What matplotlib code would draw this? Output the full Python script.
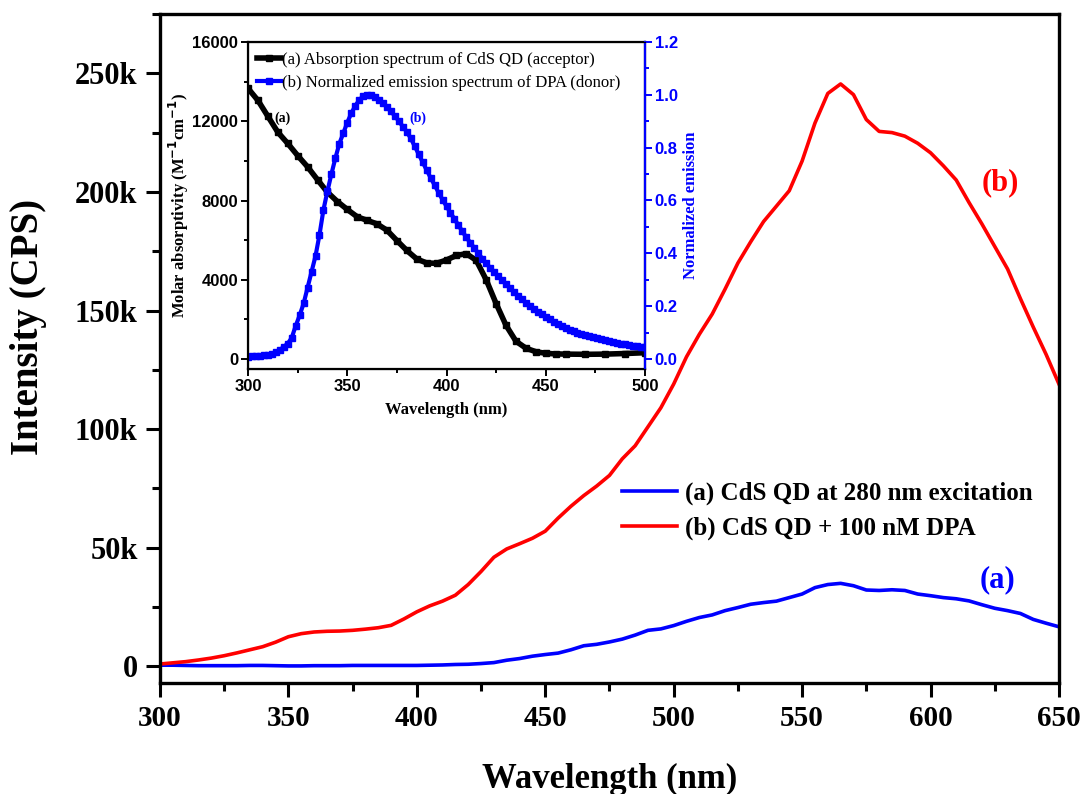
import matplotlib
matplotlib.use("Agg")
import matplotlib.pyplot as plt
from matplotlib.ticker import MultipleLocator, FuncFormatter

serif = "Liberation Serif"
sans = "Liberation Sans"

# main plot: emission spectra (CPS)
wl = [300, 305, 310, 315, 320, 325, 330, 335, 340, 345, 350, 355, 360, 365, 370,
      375, 380, 385, 390, 395, 400, 405, 410, 415, 420, 425, 430, 435, 440, 445,
      450, 455, 460, 465, 470, 475, 480, 485, 490, 495, 500, 505, 510, 515, 520,
      525, 530, 535, 540, 545, 550, 555, 560, 565, 570, 575, 580, 585, 590, 595,
      600, 605, 610, 615, 620, 625, 630, 635, 640, 645, 650]
cds = [500, 500, 400, 300, 300, 300, 300, 400, 400, 300, 200, 200, 300, 300, 300,
       400, 400, 400, 400, 400, 400, 500, 600, 800, 900, 1200, 1600, 2600, 3300, 4300,
       5000, 5600, 7000, 8700, 9300, 10300, 11500, 13200, 15200, 15800, 17200, 19000, 20600, 21700, 23500,
       24800, 26200, 26900, 27500, 29000, 30500, 33200, 34500, 35000, 34000, 32200, 32000, 32300, 32000, 30500,
       29800, 29000, 28500, 27600, 26000, 24500, 23500, 22300, 19800, 18200, 16700]
cds_dpa = [1000, 1500, 2000, 2700, 3500, 4500, 5700, 7000, 8300, 10200, 12500, 13800, 14500, 14800, 14900,
           15200, 15700, 16300, 17300, 20000, 23000, 25500, 27500, 30000, 34500, 40000, 46000, 49500, 51700, 54000,
           57000, 62500, 67500, 72000, 76000, 80500, 87500, 93000, 101000, 109000, 119000, 130500, 140000, 148500, 159000,
           170000, 179000, 187500, 194000, 200500, 213000, 229000, 241500, 245500, 241000, 230500, 225500, 225000, 223500, 220500,
           216500, 211000, 205000, 195500, 186500, 177000, 167500, 155000, 143000, 131500, 119000]

# inset: absorption of CdS QD
abs_wl = [300, 305, 310, 315, 320, 325, 330, 335, 340, 345, 350, 355, 360, 365, 370,
          375, 380, 385, 390, 395, 400, 405, 410, 415, 420, 425, 430, 435, 440, 445,
          450, 455, 460, 470, 480, 490, 500]
absorb = [13660, 13050, 12250, 11450, 10880, 10270, 9700, 9050, 8420, 7950, 7550, 7180, 7000, 6820, 6500,
          5980, 5480, 5050, 4850, 4830, 5000, 5230, 5320, 4980, 4000, 2800, 1700, 900, 550, 370,
          290, 260, 250, 240, 250, 280, 320]

# inset: normalized DPA emission (2 nm steps)
em_wl = list(range(300, 501, 2))
emis = [0.009, 0.010, 0.011, 0.012, 0.014, 0.016, 0.020, 0.026, 0.034, 0.046,
        0.058, 0.080, 0.125, 0.165, 0.210, 0.270, 0.330, 0.390, 0.470, 0.565,
        0.635, 0.700, 0.760, 0.815, 0.855, 0.895, 0.930, 0.958, 0.980, 0.995,
        1.000, 0.998, 0.990, 0.980, 0.968, 0.953, 0.937, 0.920, 0.900, 0.880,
        0.860, 0.835, 0.805, 0.775, 0.745, 0.715, 0.686, 0.658, 0.630, 0.603,
        0.578, 0.553, 0.530, 0.506, 0.483, 0.460, 0.440, 0.420, 0.400, 0.380,
        0.362, 0.345, 0.330, 0.313, 0.298, 0.283, 0.268, 0.254, 0.240, 0.226,
        0.213, 0.201, 0.190, 0.179, 0.169, 0.160, 0.150, 0.141, 0.133, 0.125,
        0.118, 0.111, 0.105, 0.100, 0.095, 0.090, 0.086, 0.082, 0.078, 0.074,
        0.070, 0.067, 0.064, 0.061, 0.058, 0.055, 0.052, 0.050, 0.048, 0.046,
        0.044]

fig = plt.figure(figsize=(10.86, 7.94), dpi=100)
ax = fig.add_axes([0.1473, 0.1398, 0.8278, 0.8426])

ax.plot(wl, cds, color="#0000ff", lw=2.6, label="(a) CdS QD at 280 nm excitation")
ax.plot(wl, cds_dpa, color="#ff0000", lw=2.6, label="(b) CdS QD + 100 nM DPA")

ax.set_xlim(300, 650)
ax.set_ylim(-7000, 275000)
ax.xaxis.set_major_locator(MultipleLocator(50))
ax.xaxis.set_minor_locator(MultipleLocator(25))
ax.yaxis.set_major_locator(MultipleLocator(50000))
ax.yaxis.set_minor_locator(MultipleLocator(25000))
ax.yaxis.set_major_formatter(FuncFormatter(lambda v, p: "0" if v == 0 else "%dk" % (v / 1000)))
for s in ax.spines.values():
    s.set_linewidth(2.4)
ax.tick_params(which="major", direction="out", length=10, width=2.2, pad=6)
ax.tick_params(which="minor", direction="out", length=6, width=2.2)
for lab in ax.get_xticklabels():
    lab.set_fontfamily(serif); lab.set_fontweight("bold"); lab.set_fontsize(21)
for lab in ax.get_yticklabels():
    lab.set_fontfamily(serif); lab.set_fontweight("bold"); lab.set_fontsize(22)
ax.set_xlabel("Wavelength (nm)", fontfamily=serif, fontweight="bold", fontsize=25, labelpad=22)
ax.set_ylabel("Intensity (CPS)", fontfamily=serif, fontweight="bold", fontsize=28)
ax.yaxis.set_label_coords(-0.126, 0.532)

ax.legend(loc="upper left", bbox_to_anchor=(0.489, 0.334), frameon=False, handlelength=2.2,
          handletextpad=0.3, labelspacing=0.45,
          prop={"family": serif, "weight": "bold", "size": 18})
ax.text(627, 204000, "(b)", color="#ff0000", fontfamily=serif, fontweight="bold", fontsize=22,
        ha="center", va="center")
ax.text(626, 36500, "(a)", color="#0000ff", fontfamily=serif, fontweight="bold", fontsize=22,
        ha="center", va="center")

# inset
ins = fig.add_axes([0.2284, 0.5353, 0.3655, 0.4118])
l1, = ins.plot(abs_wl, absorb, color="black", lw=4, marker="s", ms=4,
               label="(a) Absorption spectrum of CdS QD (acceptor)")
ins.set_xlim(300, 500)
ins.set_ylim(-500, 16000)
ins.xaxis.set_major_locator(MultipleLocator(50))
ins.xaxis.set_minor_locator(MultipleLocator(25))
ins.yaxis.set_major_locator(MultipleLocator(4000))
ins.yaxis.set_minor_locator(MultipleLocator(2000))
ins.tick_params(which="major", direction="out", length=5, width=1.4, labelsize=12, pad=2)
ins.tick_params(which="minor", direction="out", length=3, width=1.4)
for lab in ins.get_xticklabels() + ins.get_yticklabels():
    lab.set_fontfamily(sans); lab.set_fontweight("bold")
ins.set_xlabel("Wavelength (nm)", fontfamily=serif, fontweight="bold", fontsize=12, labelpad=6)
ins.set_ylabel("Molar absorptivity (M$^{\\mathbf{-1}}$cm$^{\\mathbf{-1}}$)", fontfamily=serif,
               fontweight="bold", fontsize=12, labelpad=1)
for s in ins.spines.values():
    s.set_linewidth(1.6)

ins2 = ins.twinx()
l2, = ins2.plot(em_wl, emis, color="#0000ff", lw=3, marker="s", ms=4.5,
                label="(b) Normalized emission spectrum of DPA (donor)")
ins2.set_ylim(-0.038, 1.2)
ins2.yaxis.set_major_locator(MultipleLocator(0.2))
ins2.yaxis.set_minor_locator(MultipleLocator(0.1))
ins2.yaxis.set_major_formatter(FuncFormatter(lambda v, p: "%.1f" % v))
ins2.tick_params(which="major", direction="out", length=5, width=1.4, labelsize=12, pad=2,
                 colors="#0000ff")
ins2.tick_params(which="minor", direction="out", length=3, width=1.4, colors="#0000ff")
for lab in ins2.get_yticklabels():
    lab.set_fontfamily(sans); lab.set_fontweight("bold")
ins2.spines["right"].set_color("#0000ff")
ins2.spines["right"].set_linewidth(1.6)
ins2.set_ylabel("Normalized emission", color="#0000ff", fontfamily=serif, fontweight="bold",
                fontsize=12, labelpad=4)

ins.text(317.6, 12160, "(a)", color="black", fontfamily=serif, fontweight="bold", fontsize=10,
         ha="center", va="center")
ins.text(385.6, 12160, "(b)", color="#0000ff", fontfamily=serif, fontweight="bold", fontsize=10,
         ha="center", va="center")
ins.legend(handles=[l1, l2], loc="upper left", bbox_to_anchor=(-0.01, 1.01), frameon=False,
           handlelength=1.4, handletextpad=0.1, labelspacing=0.4, borderpad=0.3,
           prop={"family": serif, "size": 12})

fig.savefig("out.png", dpi=100)
